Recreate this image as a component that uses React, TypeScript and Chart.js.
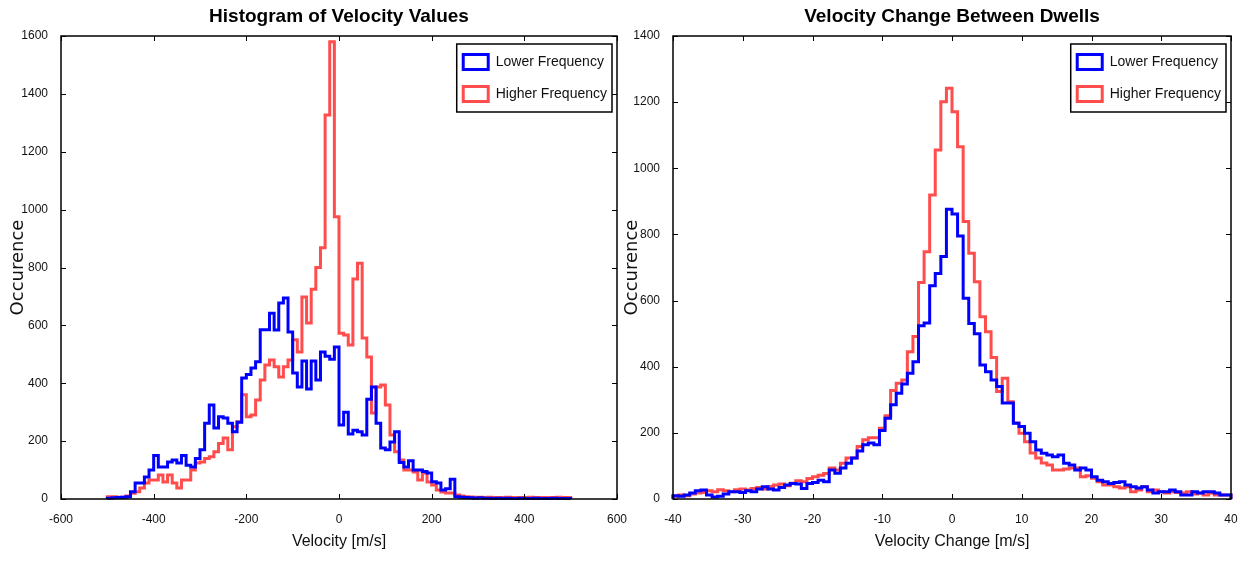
import React, { useEffect, useRef } from "react";
import { Chart, registerables } from "chart.js";

Chart.register(...registerables);

const NARROW = "'Liberation Sans Narrow', 'Liberation Sans', Arial, sans-serif";
const WIDE = "'DejaVu Sans', 'Liberation Sans', sans-serif";

// ---------- Data: Histogram of Velocity Values ----------
const velocityBinStart = -500;
const velocityBinWidth = 10;
const velocityLower = [
  3, 4, 5, 6, 8, 25, 55, 55, 76, 100,
  150, 111, 111, 128, 135, 124, 150, 117, 111, 140,
  170, 262, 325, 245, 284, 280, 262, 232, 265, 418,
  430, 453, 474, 585, 585, 642, 584, 677, 695, 577,
  435, 387, 477, 380, 477, 411, 508, 493, 483, 525,
  256, 300, 225, 238, 232, 221, 345, 387, 262, 176,
  170, 197, 232, 126, 111, 132, 100, 100, 95, 90,
  60, 55, 31, 35, 68, 8, 6, 5, 4, 3,
  4, 3, 3, 2, 3, 2, 3, 2, 2, 3,
  2, 2, 3, 2, 2, 2, 3, 2, 2, 2,
];
const velocityHigher = [
  8, 8, 6, 6, 10, 20, 25, 38, 55, 66,
  66, 83, 59, 83, 55, 38, 66, 66, 100, 124,
  128, 140, 146, 163, 192, 211, 170, 250, 267, 360,
  284, 290, 342, 411, 463, 480, 457, 422, 457, 480,
  550, 508, 698, 608, 725, 800, 868, 1327, 1580, 975,
  573, 567, 532, 760, 815, 556, 491, 297, 387, 394,
  325, 221, 163, 135, 100, 100, 93, 66, 90, 59,
  48, 31, 24, 21, 21, 14, 10, 8, 7, 6,
  6, 5, 6, 5, 5, 5, 6, 5, 5, 5,
  5, 6, 5, 5, 5, 5, 5, 6, 5, 5,
];

// ---------- Data: Velocity Change Between Dwells ----------
const changeBinStart = -40;
const changeBinWidth = 0.8;
const changeLower = [
  10, 8, 12, 18, 25, 27, 12, 6, 8, 15,
  22, 22, 20, 25, 22, 30, 37, 30, 27, 35,
  42, 47, 45, 32, 47, 50, 57, 52, 88, 78,
  94, 108, 124, 145, 164, 169, 164, 207, 244, 285,
  320, 348, 380, 415, 524, 532, 645, 682, 733, 876,
  862, 795, 607, 531, 500, 405, 385, 360, 340, 290,
  290, 229, 219, 199, 173, 148, 138, 133, 128, 133,
  108, 103, 88, 94, 88, 67, 57, 52, 47, 50,
  52, 42, 37, 33, 37, 27, 18, 22, 22, 27,
  22, 12, 12, 22, 18, 22, 22, 18, 12, 12,
];
const changeHigher = [
  8, 12, 10, 15, 18, 20, 25, 22, 28, 25,
  22, 28, 30, 27, 32, 35, 30, 38, 42, 45,
  40, 48, 55, 52, 62, 67, 72, 77, 94, 88,
  108, 124, 124, 159, 179, 185, 185, 214, 252, 328,
  350, 360, 445, 491, 655, 748, 919, 1055, 1201, 1242,
  1171, 1065, 839, 743, 657, 551, 506, 428, 325, 365,
  294, 230, 199, 173, 139, 124, 109, 103, 88, 88,
  91, 94, 94, 67, 70, 63, 52, 42, 42, 37,
  33, 37, 22, 27, 37, 22, 27, 22, 18, 22,
  20, 18, 22, 15, 18, 12, 18, 12, 12, 12,
];

const seriesLabels = ["Lower Frequency", "Higher Frequency"];
const seriesColors = ["#0000ff", "rgba(255,0,0,0.7)"];

function stepPoints(start: number, width: number, values: number[]) {
  const pts = [{ x: start, y: 0 }];
  values.forEach((v, i) => pts.push({ x: start + i * width, y: v }));
  const end = start + values.length * width;
  pts.push({ x: end, y: values[values.length - 1] });
  pts.push({ x: end, y: 0 });
  return pts;
}

const framePlugin = {
  id: "frameLegend",
  afterDraw(chart: any) {
    const { ctx, chartArea: a, scales } = chart;
    ctx.save();
    ctx.strokeStyle = "#000";
    ctx.lineWidth = 1;
    const len = 5;
    const seg = (x1: number, y1: number, x2: number, y2: number) => {
      ctx.beginPath();
      ctx.moveTo(x1, y1);
      ctx.lineTo(x2, y2);
      ctx.stroke();
    };
    scales.x.ticks.forEach((t: any) => {
      const px = Math.round(scales.x.getPixelForValue(t.value)) + 0.5;
      seg(px, a.bottom, px, a.bottom - len);
      seg(px, a.top, px, a.top + len);
    });
    scales.y.ticks.forEach((t: any) => {
      const py = Math.round(scales.y.getPixelForValue(t.value)) + 0.5;
      seg(a.left, py, a.left + len, py);
      seg(a.right, py, a.right - len, py);
    });
    ctx.lineWidth = 1.5;
    ctx.strokeRect(a.left, a.top, a.right - a.left, a.bottom - a.top);

    // legend
    const ds = chart.data.datasets;
    ctx.font = `14px ${NARROW}`;
    const textW = Math.max(...ds.map((d: any) => ctx.measureText(d.label).width));
    const patchW = 25;
    const patchH = 15;
    const boxW = 5 + patchW + 9 + textW + 5;
    const boxH = 68;
    const bx = a.right - 5 - boxW;
    const by = a.top + 8;
    ctx.fillStyle = "#fff";
    ctx.fillRect(bx, by, boxW, boxH);
    ctx.lineWidth = 1.5;
    ctx.strokeStyle = "#000";
    ctx.strokeRect(bx, by, boxW, boxH);
    ds.forEach((d: any, i: number) => {
      const cy = by + 18 + i * 32;
      ctx.lineWidth = 3;
      ctx.strokeStyle = d.borderColor;
      ctx.strokeRect(bx + 6.5, cy - patchH / 2, patchW, patchH);
      ctx.fillStyle = "#111";
      ctx.textBaseline = "middle";
      ctx.textAlign = "left";
      ctx.fillText(d.label, bx + 5 + patchW + 9, cy);
    });
    ctx.restore();
  },
};

type PanelProps = {
  title: string;
  xTitle: string;
  start: number;
  width: number;
  lower: number[];
  higher: number[];
  xMin: number;
  xMax: number;
  xStep: number;
  yMax: number;
  yAxisWidth: number;
  padRight: number;
  yTitlePad: number;
  canvasW: number;
  left: number;
};

function Panel(p: PanelProps) {
  const ref = useRef<HTMLCanvasElement | null>(null);
  useEffect(() => {
    if (!ref.current) return;
    const tickFont = { family: NARROW, size: 12 };
    const chart = new Chart(ref.current, {
      type: "line",
      data: {
        datasets: [p.lower, p.higher].map((vals, i) => ({
          label: seriesLabels[i],
          data: stepPoints(p.start, p.width, vals),
          borderColor: seriesColors[i],
          backgroundColor: seriesColors[i],
          borderWidth: 3,
          stepped: true,
          pointRadius: 0,
          fill: false,
          clip: false,
          borderJoinStyle: "miter",
        })),
      } as any,
      options: {
        animation: false,
        responsive: false,
        events: [],
        layout: { padding: { left: 0, right: p.padRight, top: 0, bottom: 0 } },
        plugins: {
          legend: { display: false },
          tooltip: { enabled: false },
          title: {
            display: true,
            text: p.title,
            fullSize: false,
            color: "#000",
            font: { family: NARROW, size: 19, weight: "bold" },
            padding: { top: 5, bottom: 8.2 },
          },
        },
        scales: {
          x: {
            type: "linear",
            min: p.xMin,
            max: p.xMax,
            grid: { display: false },
            border: { display: false },
            ticks: {
              stepSize: p.xStep,
              autoSkip: false,
              maxRotation: 0,
              padding: 5,
              color: "#111",
              font: tickFont,
              callback: (v: any) => String(v),
            },
            title: {
              display: true,
              text: p.xTitle,
              color: "#111",
              font: { family: NARROW, size: 16 },
              padding: { top: 0, bottom: 10 },
            },
            afterFit: (s: any) => {
              s.height = 62;
              s.paddingLeft = 0;
              s.paddingRight = 0;
            },
          },
          y: {
            type: "linear",
            min: 0,
            max: p.yMax,
            grid: { display: false },
            border: { display: false },
            ticks: {
              stepSize: 200,
              autoSkip: false,
              padding: 5,
              color: "#111",
              font: tickFont,
              callback: (v: any) => String(v),
            },
            title: {
              display: true,
              text: "Occurence",
              color: "#111",
              font: { family: WIDE, size: 18 },
              padding: { top: p.yTitlePad, bottom: 0 },
            },
            afterFit: (s: any) => {
              s.width = p.yAxisWidth;
              s.paddingTop = 0;
              s.paddingBottom = 0;
            },
          },
        },
      } as any,
      plugins: [framePlugin],
    });
    return () => chart.destroy();
  }, []);
  return (
    <canvas
      ref={ref}
      width={p.canvasW}
      height={561}
      style={{ position: "absolute", left: p.left, top: 0, width: p.canvasW, height: 561 }}
    />
  );
}

export default function App() {
  return (
    <div style={{ position: "absolute", left: 0, top: 0, width: 1238, height: 561, background: "#fff", overflow: "hidden" }}>
      <Panel
        title="Histogram of Velocity Values"
        xTitle="Velocity [m/s]"
        start={velocityBinStart}
        width={velocityBinWidth}
        lower={velocityLower}
        higher={velocityHigher}
        xMin={-600}
        xMax={600}
        xStep={200}
        yMax={1600}
        yAxisWidth={61}
        padRight={18}
        yTitlePad={8}
        canvasW={635}
        left={0}
      />
      <Panel
        title="Velocity Change Between Dwells"
        xTitle="Velocity Change [m/s]"
        start={changeBinStart}
        width={changeBinWidth}
        lower={changeLower}
        higher={changeHigher}
        xMin={-40}
        xMax={40}
        xStep={10}
        yMax={1400}
        yAxisWidth={58}
        padRight={7}
        yTitlePad={7}
        canvasW={623}
        left={615}
      />
    </div>
  );
}
